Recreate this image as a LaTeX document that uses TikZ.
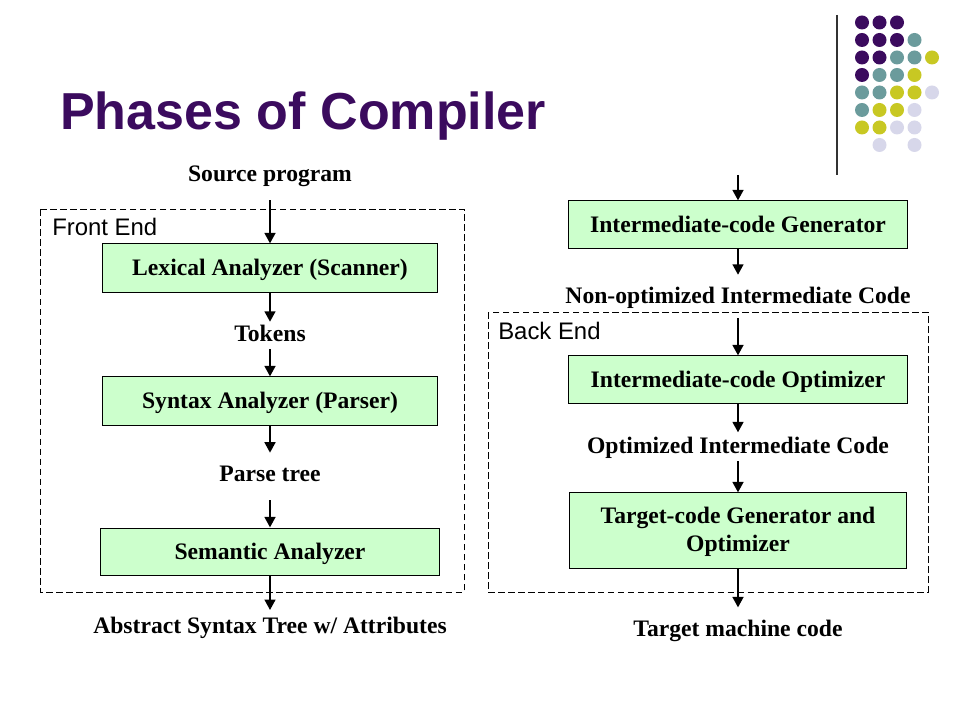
\documentclass[tikz,border=0pt]{standalone}
\usepackage{fontspec}
\setmainfont{Liberation Serif}
\setsansfont{Liberation Sans}
\usetikzlibrary{arrows.meta}
\definecolor{titlepurple}{HTML}{3B0B5E}
\definecolor{dotpurple}{HTML}{3B0B5E}
\definecolor{dotteal}{HTML}{6B9B9C}
\definecolor{dotyellow}{HTML}{C8C823}
\definecolor{dotlilac}{HTML}{D7D7EA}
\definecolor{phasegreen}{HTML}{CCFFCC}
\tikzset{
  phase/.style={draw, fill=phasegreen, line width=0.7pt, inner sep=0pt, minimum height=1.175cm, text height=13pt, text depth=2pt, font=\bfseries\fontsize{16.8}{20}\selectfont},
  twoline/.style={draw, fill=phasegreen, line width=0.7pt, inner sep=0pt, align=center, font=\bfseries\fontsize{16.8}{20}\selectfont},
  data/.style={inner sep=2pt, text height=11.5pt, text depth=3.5pt, font=\bfseries\fontsize{16.8}{20}\selectfont},
  flow/.style={line width=2.1pt, -{Triangle[length=7.5pt,width=7.5pt]}},
  stagebox/.style={draw, line width=0.7pt, dash pattern=on 4.7pt off 2.4pt},
  stagelabel/.style={anchor=base west, inner sep=0pt, font=\sffamily\fontsize{17}{20}\selectfont},
}
\begin{document}
\begin{tikzpicture}[x=0.025cm, y=-0.025cm]
\useasboundingbox (0,0) rectangle (960,720);

% title and corner decoration
\node[anchor=base west, inner sep=0pt, text=titlepurple, font=\sffamily\bfseries\fontsize{37}{44}\selectfont] (title) at (60,130) {Phases of Compiler};
\draw[line width=0.9pt, black!80] (837,15) -- (837,175);
\foreach \c/\r/\col in {0/0/dotpurple,1/0/dotpurple,2/0/dotpurple,
    0/1/dotpurple,1/1/dotpurple,2/1/dotpurple,3/1/dotteal,
    0/2/dotpurple,1/2/dotpurple,2/2/dotteal,3/2/dotteal,4/2/dotyellow,
    0/3/dotpurple,1/3/dotteal,2/3/dotteal,3/3/dotyellow,
    0/4/dotteal,1/4/dotteal,2/4/dotyellow,3/4/dotyellow,4/4/dotlilac,
    0/5/dotteal,1/5/dotyellow,2/5/dotyellow,3/5/dotlilac,
    0/6/dotyellow,1/6/dotyellow,2/6/dotlilac,3/6/dotlilac,
    1/7/dotlilac,3/7/dotlilac}
  \fill[\col] ({862+17.5*\c},{22.5+17.5*\r}) circle (0.175cm);

% front end
\draw[stagebox] (40,209) rectangle (464,592);
\node[stagelabel] (front) at (52,236) {Front End};
\node[data] (src) at (270,176) {Source program};
\node[phase, minimum width=8.35cm, minimum height=1.2cm] (lex) at (270,268) {Lexical Analyzer (Scanner)};
\node[data] (tok) at (270,335.5) {Tokens};
\node[phase, minimum width=8.35cm, minimum height=1.2cm] (syn) at (270,401) {Syntax Analyzer (Parser)};
\node[data] (ptree) at (270,476) {Parse tree};
\node[phase, minimum width=8.475cm] (sem) at (270,551.5) {Semantic Analyzer};
\node[data] (ast) at (270,628) {Abstract Syntax Tree w/ Attributes};

\path[draw,flow,shorten <=7.5pt] (src) -- (lex);
\path[draw,flow] (lex) -- (tok);
\path[draw,flow] (tok) -- (syn);
\path[draw,flow,shorten >=6.8pt] (syn) -- (ptree);
\path[draw,flow,shorten <=7.5pt] (ptree) -- (sem);
\path[draw,flow,shorten >=3pt] (sem) -- (ast);

% back end
\draw[stagebox] (488,312.5) rectangle (928,592);
\node[stagelabel] (back) at (498,340) {Back End};
\coordinate (in) at (738,175);
\node[phase, minimum width=8.475cm] (icg) at (738,224.5) {Intermediate-code Generator};
\node[data] (noic) at (738,297.5) {Non-optimized Intermediate Code};
\node[phase, minimum width=8.475cm] (ico) at (738,379.5) {Intermediate-code Optimizer};
\node[data] (oic) at (738,447.5) {Optimized Intermediate Code};
\node[twoline, minimum width=8.4cm, minimum height=1.875cm] (tcg) at (738,530.5) {\rule{0pt}{14pt}Target-code Generator and\\Optimizer};
\node[data] (tmc) at (738,631) {Target machine code};

\path[draw,flow] (in) -- (icg);
\path[draw,flow,shorten >=6.4pt] (icg) -- (noic);
\path[draw,flow,shorten <=5pt] (noic) -- (ico);
\path[draw,flow,shorten >=1pt] (ico) -- (oic);
\path[draw,flow] (oic) -- (tcg);
\path[draw,flow,shorten >=7pt] (tcg) -- (tmc);
\end{tikzpicture}
\end{document}
